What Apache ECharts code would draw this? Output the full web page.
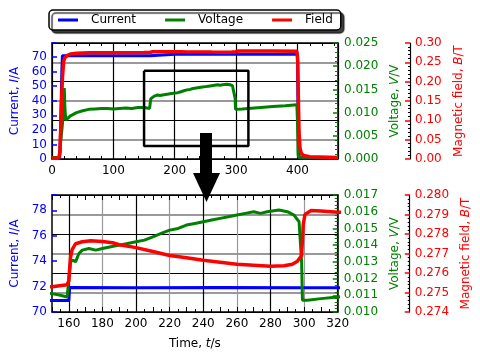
<!DOCTYPE html>
<html>
<head>
<meta charset="utf-8">
<script src="https://cdn.jsdelivr.net/npm/echarts@6/dist/echarts.min.js"></script>
<style>
  html, body { margin: 0; padding: 0; background: #fff; }
  #main { width: 480px; height: 360px; }
</style>
</head>
<body>
<div id="main"></div>
<script>
// 电流 I/A
var currentTime = [0, 12.5, 14, 16, 17, 160, 160.5, 200, 250, 300, 350, 400, 401, 402, 404, 410, 466];
var currentVal = [0.3, 0.3, 20, 60, 70.9, 70.9, 71.92, 71.9, 71.93, 71.91, 71.92, 71.92, 30, 3, 0.8, 0.4, 0.3];

// 电压 V/V
var voltageTime = [0, 12, 14, 17, 19, 20, 21, 22.5, 26, 30, 40, 50, 60, 70, 80, 90, 100, 110, 120, 130, 140,
  150, 155, 159, 160, 161, 162.5, 164, 166, 168, 172, 176, 180, 185, 190, 195, 200, 205, 210, 215, 220,
  225, 230, 235, 240, 245, 250, 255, 260, 265, 270, 274, 278, 285, 290, 294, 297, 298.5, 299, 302, 310,
  320, 340, 360, 380, 399, 400, 401, 402, 466];
var voltageVal = [0.0003, 0.0003, 0.0035, 0.0075, 0.0120, 0.0153, 0.0110, 0.0084, 0.0088, 0.0093, 0.0100,
  0.0104, 0.0107, 0.0108, 0.0109, 0.0109, 0.0108, 0.0109, 0.0110, 0.0109, 0.0111,
  0.0111, 0.0110, 0.0109, 0.0110, 0.0130, 0.0131, 0.0130, 0.0135, 0.0137, 0.0138, 0.0137, 0.0138, 0.0139,
  0.0140, 0.0141, 0.0142, 0.0143, 0.0145, 0.0147, 0.0149, 0.0150, 0.0152, 0.0153, 0.0154, 0.0155, 0.0156,
  0.0157, 0.0158, 0.0159, 0.0160, 0.0159, 0.0160, 0.0161, 0.0160, 0.0158, 0.0154, 0.0130, 0.0107, 0.0107,
  0.0108, 0.0109, 0.0111, 0.0113, 0.0115, 0.0117, 0.0080, 0.0010, 0.0004, 0.0003];

// 磁场 B/T
var fieldTime = [0, 11, 13, 15, 17, 19, 21, 25, 30, 40, 60, 100, 150, 159, 160, 161, 162, 164, 168, 173,
  180, 186, 190, 200, 210, 220, 230, 240, 250, 260, 270, 280, 288, 293, 296, 298.5, 299.5, 300.5, 304,
  310, 320, 360, 399, 400.5, 401.5, 402.5, 404, 406, 410, 420, 466];
var fieldVal = [0.002, 0.002, 0.02, 0.12, 0.21, 0.252, 0.262, 0.268, 0.2715, 0.2735, 0.2745, 0.2750,
  0.2753, 0.2754, 0.2756, 0.2768, 0.2772, 0.2775, 0.2776, 0.27765, 0.27762, 0.27755, 0.27745, 0.2773,
  0.2771, 0.2769, 0.27678, 0.27665, 0.27655, 0.27645, 0.2764, 0.27635, 0.27637, 0.27645, 0.2766, 0.2769,
  0.2785, 0.2790, 0.2792, 0.27918, 0.27912, 0.2790, 0.2789, 0.25, 0.15, 0.07, 0.03, 0.015, 0.009, 0.006,
  0.004];

// 放大区域框 (时间, 电流)
var boxTime = [150, 320, 320, 150, 150];
var boxCurrent = [60.5, 60.5, 9, 9, 60.5];

var font = 'DejaVu Sans';
var BLUE = '#0000ff', GREEN = '#008000', RED = '#ff0000';

function pairs(xs, ys) {
    var res = [];
    for (var i = 0; i < xs.length; i++) {
        res.push([xs[i], ys[i]]);
    }
    return res;
}

// 只在 step 的整数倍处显示刻度标签
function tickLabel(color, digits, step, margin) {
    return {
        color: color, fontSize: 12, fontFamily: font, margin: margin || 5,
        formatter: function (v) {
            var r = v / step;
            if (Math.abs(r - Math.round(r)) > 1e-6) return '';
            return digits ? v.toFixed(digits) : String(Math.round(v));
        }
    };
}

function nameStyle(color) {
    return {
        color: color, fontSize: 12, fontFamily: font,
        rich: {i: {fontStyle: 'italic', color: color, fontSize: 12, fontFamily: font}}
    };
}

function xAxes(grid, min, max, step, minorSplit, splitColors, withName) {
    var bottom = {
        gridIndex: grid, type: 'value', position: 'bottom', min: min, max: max, interval: step,
        axisLine: {onZero: false, lineStyle: {color: '#000', width: 1.5}},
        axisTick: {inside: true, length: 5, lineStyle: {color: '#000'}},
        minorTick: {show: true, splitNumber: minorSplit, length: 3, lineStyle: {color: '#000'}},
        axisLabel: tickLabel('#000', 0, grid === 0 ? 100 : 20, 6),
        splitLine: {show: true, lineStyle: {color: splitColors, width: 1.2}}
    };
    if (withName) {
        bottom.name = 'Time, {i|t}/s';
        bottom.nameLocation = 'middle';
        bottom.nameGap = 26;
        bottom.nameTextStyle = nameStyle('#000');
    }
    var top = {
        gridIndex: grid, type: 'value', position: 'top', min: min, max: max, interval: step,
        axisLine: {onZero: false, lineStyle: {color: '#000', width: 1.5}},
        axisTick: {inside: true, length: 5, lineStyle: {color: '#000'}},
        minorTick: {show: true, splitNumber: minorSplit, length: 3, lineStyle: {color: '#000'}},
        axisLabel: {show: false},
        splitLine: {show: false}
    };
    return [bottom, top];
}

function yAxes(grid, cur, volt, fld, gridStep) {
    return [
        {   // 电流
            gridIndex: grid, type: 'value', position: 'left', min: cur[0], max: cur[1], interval: cur[2],
            axisLine: {onZero: false, lineStyle: {color: '#000', width: 1.5}},
            axisTick: {inside: true, length: 5, lineStyle: {color: BLUE, width: 1.5}},
            axisLabel: tickLabel(BLUE, 0, cur[2], 5),
            splitLine: {show: false},
            name: 'Current, {i|I}/A', nameLocation: 'middle', nameGap: 30,
            nameTextStyle: nameStyle(BLUE)
        },
        {   // 电压
            gridIndex: grid, type: 'value', position: 'right', offset: 0,
            min: volt[0], max: volt[1], interval: volt[2],
            axisLine: {onZero: false, lineStyle: {color: '#000', width: 1.5}},
            axisTick: {inside: true, length: 5, lineStyle: {color: GREEN, width: 1.5}},
            minorTick: {show: true, splitNumber: 5, length: 3, lineStyle: {color: GREEN}},
            axisLabel: tickLabel(GREEN, 3, volt[2], 6),
            splitLine: {show: false},
            name: 'Voltage, {i|V}/V', nameLocation: 'middle', nameGap: 47,
            nameTextStyle: nameStyle(GREEN)
        },
        {   // 磁场
            gridIndex: grid, type: 'value', position: 'right', offset: 72,
            min: fld[0], max: fld[1], interval: fld[2],
            axisLine: {onZero: false, lineStyle: {color: '#000', width: 1.2}},
            axisTick: {inside: true, length: 5, lineStyle: {color: RED, width: 1.5}},
            minorTick: {show: true, splitNumber: 5, length: 2, lineStyle: {color: '#000'}},
            axisLabel: tickLabel(RED, fld[3], fld[2], 5),
            splitLine: {show: false},
            name: 'Magnetic field, {i|B}/T', nameLocation: 'middle', nameGap: fld[4],
            nameTextStyle: nameStyle(RED)
        },
        {   // 网格线 (跟随磁场轴)
            gridIndex: grid, type: 'value', position: 'right', offset: 0,
            min: fld[0], max: fld[1], interval: gridStep,
            axisLine: {show: false}, axisTick: {show: false}, axisLabel: {show: false},
            splitLine: {show: true, lineStyle: {color: '#000', width: 1}},
            minorTick: {show: false, splitNumber: 2},
            minorSplitLine: {show: true, lineStyle: {color: '#999', width: 1.8}}
        }
    ];
}

function lineSeries(name, color, width, xi, yi, data) {
    return {
        name: name, type: 'line', xAxisIndex: xi, yAxisIndex: yi,
        data: data, showSymbol: false, symbol: 'none', clip: true,
        color: color, itemStyle: {color: color},
        lineStyle: {color: color, width: width}
    };
}

var chart = echarts.init(document.getElementById('main'), null, {renderer: 'canvas'});

var currentData = pairs(currentTime, currentVal);
var voltageData = pairs(voltageTime, voltageVal);
var fieldData = pairs(fieldTime, fieldVal);

var option = {
    animation: false,
    backgroundColor: '#fff',
    textStyle: {fontFamily: font},
    legend: {
        data: ['Current', 'Voltage', 'Field'],
        left: 49, top: 10, orient: 'horizontal',
        icon: 'rect', itemWidth: 20, itemHeight: 3, itemGap: 29,
        padding: [4, 8, 4, 9],
        backgroundColor: '#fff', borderColor: '#000', borderWidth: 1.5, borderRadius: 4,
        shadowColor: 'rgba(0,0,0,0.75)', shadowBlur: 1, shadowOffsetX: 3, shadowOffsetY: 3,
        textStyle: {fontSize: 12, fontFamily: font, color: '#000', padding: [0, 0, 0, 8]}
    },
    grid: [
        {left: 52, top: 43, width: 286, height: 116},
        {left: 52, top: 195, width: 286, height: 117}
    ],
    xAxis: [].concat(
        xAxes(0, 0, 466, 100, 5, '#000', false),
        xAxes(1, 150, 320, 10, 2, ['rgba(0,0,0,0)', '#000', 'rgba(0,0,0,0)', '#999'], true)
    ),
    yAxis: [].concat(
        yAxes(0, [0, 79.6, 10], [0, 0.025, 0.005], [0, 0.3, 0.05, 2, 41], 0.1),
        yAxes(1, [70, 79.2, 2], [0.010, 0.017, 0.001], [0.274, 0.280, 0.001, 3, 47], 0.002)
    ),
    series: [
        lineSeries('Current', BLUE, 3, 0, 0, currentData),
        lineSeries('Voltage', GREEN, 3, 0, 1, voltageData),
        lineSeries('Field', RED, 3.5, 0, 2, fieldData),
        {
            name: 'box', type: 'line', xAxisIndex: 0, yAxisIndex: 0,
            data: pairs(boxTime, boxCurrent), showSymbol: false, symbol: 'none',
            lineStyle: {color: '#000', width: 2.5}, z: 5
        },
        lineSeries('Current', BLUE, 3, 2, 4, currentData),
        lineSeries('Voltage', GREEN, 3, 2, 5, voltageData),
        lineSeries('Field', RED, 3.5, 2, 6, fieldData)
    ],
    graphic: [
        {type: 'rect', shape: {x: 200, y: 133, width: 12, height: 41}, style: {fill: '#000'}, z: 100},
        {type: 'polygon', shape: {points: [[193, 173], [220, 173], [206.5, 202]]}, style: {fill: '#000'}, z: 100}
    ]
};

chart.setOption(option);
</script>
</body>
</html>
